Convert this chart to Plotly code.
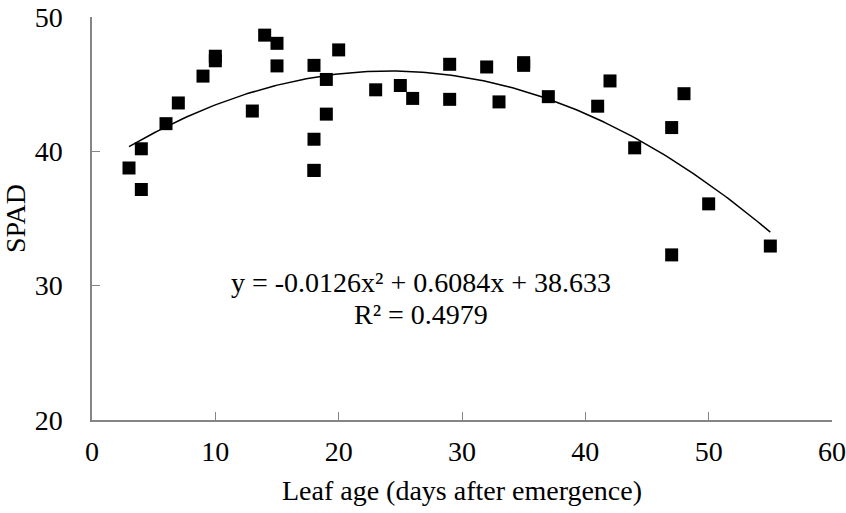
import numpy as np
import plotly.graph_objects as go

# Leaf age (days after emergence) and SPAD readings
leaf_age = [3, 4, 4, 6, 7, 9, 10, 10, 13, 14, 15, 15,
            18, 18, 18, 18, 19, 19, 20, 23, 25, 26, 29, 29,
            32, 33, 35, 35, 37, 41, 42, 44, 47, 47, 48, 50, 55]
spad = [38.76, 40.19, 37.16, 42.06, 43.6, 45.6, 47.08, 46.74, 43.0, 48.65, 48.04, 46.36,
        46.4, 40.9, 38.58, 38.58, 45.35, 42.77, 47.55, 44.58, 44.9, 43.94, 46.48, 43.87,
        46.28, 43.68, 46.6, 46.4, 44.07, 43.36, 45.24, 40.26, 41.77, 32.29, 44.29, 36.09, 32.95]

# Polynomial trendline coefficients shown on the chart (a, b, c for a*x^2 + b*x + c)
trend_coef = [-0.0126, 0.6084, 38.633]
trend_range = [3, 55]
eq_text = "y = -0.0126x² + 0.6084x + 38.633"
r2_text = "R² = 0.4979"

x_ticks = [0, 10, 20, 30, 40, 50, 60]
y_ticks = [20, 30, 40, 50]

tx = np.linspace(trend_range[0], trend_range[1], 200)
ty = np.polyval(trend_coef, tx)

FONT = "Liberation Serif"
FS = 28
AXIS_COLOR = "#858585"

fig = go.Figure()
fig.add_trace(go.Scatter(x=tx, y=ty, mode="lines",
                         line=dict(color="black", width=1.5),
                         hoverinfo="skip", showlegend=False))
fig.add_trace(go.Scatter(x=leaf_age, y=spad, mode="markers",
                         marker=dict(symbol="square", size=13, color="black"),
                         showlegend=False))

fig.add_annotation(x=26.7, y=30.26, xref="x", yref="y", text=eq_text,
                   showarrow=False, font=dict(family=FONT, size=FS, color="black"))
fig.add_annotation(x=26.7, y=27.85, xref="x", yref="y", text=r2_text,
                   showarrow=False, font=dict(family=FONT, size=FS, color="black"))

fig.update_layout(
    width=846, height=513,
    margin=dict(l=92, r=14, t=17, b=93, autoexpand=False),
    plot_bgcolor="white", paper_bgcolor="white",
    font=dict(family=FONT, size=FS, color="black"),
)
fig.update_xaxes(
    range=[0, 60], tickvals=x_ticks, ticks="inside", ticklen=8,
    tickcolor=AXIS_COLOR, showline=True, linecolor=AXIS_COLOR, linewidth=1.5,
    showgrid=False, zeroline=False, automargin=False, ticklabelstandoff=6,
    ticklabeloverflow="allow",
    tickfont=dict(family=FONT, size=FS, color="black"),
    title=dict(text="Leaf age (days after emergence)", standoff=14,
               font=dict(family=FONT, size=FS, color="black")),
)
fig.update_yaxes(
    range=[20, 50], tickvals=y_ticks, ticks="inside", ticklen=8,
    tickcolor=AXIS_COLOR, showline=True, linecolor=AXIS_COLOR, linewidth=1.5,
    showgrid=False, zeroline=False, automargin=False, ticklabelstandoff=22,
    ticklabeloverflow="allow",
    tickfont=dict(family=FONT, size=FS, color="black"),
    title=dict(text="SPAD", standoff=2,
               font=dict(family=FONT, size=FS, color="black")),
)

fig.write_html("out.html", config={"displayModeBar": False},
               post_script="document.body.style.margin='0px';")
